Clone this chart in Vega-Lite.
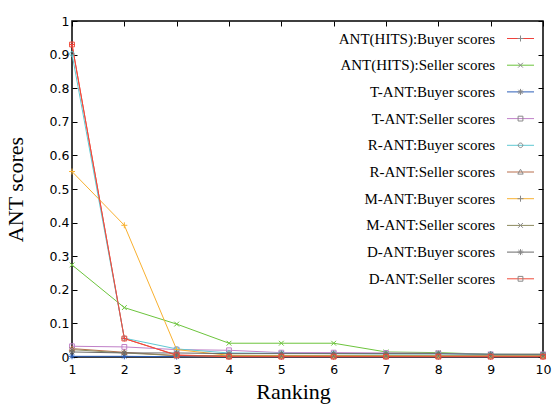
{
  "$schema": "https://vega.github.io/schema/vega-lite/v6.json",
  "width": 471,
  "height": 336,
  "autosize": "none",
  "padding": {"left": 72, "top": 21, "right": 9, "bottom": 49},
  "background": "white",
  "config": {
    "view": {"stroke": "black", "strokeWidth": 1.5},
    "axis": {
      "domain": false,
      "grid": false,
      "tickSize": -5,
      "tickColor": "black",
      "tickWidth": 1,
      "labelFont": "DejaVu Sans",
      "labelFontSize": 12.5,
      "labelColor": "black",
      "labelFlush": false,
      "labelOverlap": false,
      "titleFont": "Liberation Serif",
      "titleFontSize": 22,
      "titleFontWeight": "normal",
      "titleColor": "black"
    },
    "legend": {
      "orient": "none",
      "legendX": 441,
      "legendY": 10,
      "padding": 0,
      "labelAlign": "right",
      "labelOffset": -33,
      "labelFont": "Liberation Serif",
      "labelFontSize": 15,
      "labelColor": "black",
      "labelLimit": 0,
      "rowPadding": 10.7,
      "symbolSize": 36,
      "symbolStrokeWidth": 1
    }
  },
  "data": {
    "values": [
      {"r": 1, "s": "ANT(HITS):Buyer scores", "v": 0.93},
      {"r": 2, "s": "ANT(HITS):Buyer scores", "v": 0.055},
      {"r": 3, "s": "ANT(HITS):Buyer scores", "v": 0.006},
      {"r": 4, "s": "ANT(HITS):Buyer scores", "v": 0.002},
      {"r": 5, "s": "ANT(HITS):Buyer scores", "v": 0.002},
      {"r": 6, "s": "ANT(HITS):Buyer scores", "v": 0.002},
      {"r": 7, "s": "ANT(HITS):Buyer scores", "v": 0.002},
      {"r": 8, "s": "ANT(HITS):Buyer scores", "v": 0.002},
      {"r": 9, "s": "ANT(HITS):Buyer scores", "v": 0.002},
      {"r": 10, "s": "ANT(HITS):Buyer scores", "v": 0.002},
      {"r": 1, "s": "ANT(HITS):Seller scores", "v": 0.274},
      {"r": 2, "s": "ANT(HITS):Seller scores", "v": 0.147},
      {"r": 3, "s": "ANT(HITS):Seller scores", "v": 0.098},
      {"r": 4, "s": "ANT(HITS):Seller scores", "v": 0.041},
      {"r": 5, "s": "ANT(HITS):Seller scores", "v": 0.041},
      {"r": 6, "s": "ANT(HITS):Seller scores", "v": 0.041},
      {"r": 7, "s": "ANT(HITS):Seller scores", "v": 0.015},
      {"r": 8, "s": "ANT(HITS):Seller scores", "v": 0.013},
      {"r": 9, "s": "ANT(HITS):Seller scores", "v": 0.008},
      {"r": 10, "s": "ANT(HITS):Seller scores", "v": 0.008},
      {"r": 1, "s": "T-ANT:Buyer scores", "v": 0.002},
      {"r": 2, "s": "T-ANT:Buyer scores", "v": 0.002},
      {"r": 3, "s": "T-ANT:Buyer scores", "v": 0.001},
      {"r": 4, "s": "T-ANT:Buyer scores", "v": 0.001},
      {"r": 5, "s": "T-ANT:Buyer scores", "v": 0.001},
      {"r": 6, "s": "T-ANT:Buyer scores", "v": 0.001},
      {"r": 7, "s": "T-ANT:Buyer scores", "v": 0.001},
      {"r": 8, "s": "T-ANT:Buyer scores", "v": 0.001},
      {"r": 9, "s": "T-ANT:Buyer scores", "v": 0.001},
      {"r": 10, "s": "T-ANT:Buyer scores", "v": 0.001},
      {"r": 1, "s": "T-ANT:Seller scores", "v": 0.032},
      {"r": 2, "s": "T-ANT:Seller scores", "v": 0.03},
      {"r": 3, "s": "T-ANT:Seller scores", "v": 0.022},
      {"r": 4, "s": "T-ANT:Seller scores", "v": 0.02},
      {"r": 5, "s": "T-ANT:Seller scores", "v": 0.013},
      {"r": 6, "s": "T-ANT:Seller scores", "v": 0.013},
      {"r": 7, "s": "T-ANT:Seller scores", "v": 0.012},
      {"r": 8, "s": "T-ANT:Seller scores", "v": 0.011},
      {"r": 9, "s": "T-ANT:Seller scores", "v": 0.008},
      {"r": 10, "s": "T-ANT:Seller scores", "v": 0.008},
      {"r": 1, "s": "R-ANT:Buyer scores", "v": 0.902},
      {"r": 2, "s": "R-ANT:Buyer scores", "v": 0.056},
      {"r": 3, "s": "R-ANT:Buyer scores", "v": 0.024},
      {"r": 4, "s": "R-ANT:Buyer scores", "v": 0.012},
      {"r": 5, "s": "R-ANT:Buyer scores", "v": 0.011},
      {"r": 6, "s": "R-ANT:Buyer scores", "v": 0.01},
      {"r": 7, "s": "R-ANT:Buyer scores", "v": 0.009},
      {"r": 8, "s": "R-ANT:Buyer scores", "v": 0.009},
      {"r": 9, "s": "R-ANT:Buyer scores", "v": 0.008},
      {"r": 10, "s": "R-ANT:Buyer scores", "v": 0.007},
      {"r": 1, "s": "R-ANT:Seller scores", "v": 0.025},
      {"r": 2, "s": "R-ANT:Seller scores", "v": 0.014},
      {"r": 3, "s": "R-ANT:Seller scores", "v": 0.004},
      {"r": 4, "s": "R-ANT:Seller scores", "v": 0.003},
      {"r": 5, "s": "R-ANT:Seller scores", "v": 0.003},
      {"r": 6, "s": "R-ANT:Seller scores", "v": 0.003},
      {"r": 7, "s": "R-ANT:Seller scores", "v": 0.003},
      {"r": 8, "s": "R-ANT:Seller scores", "v": 0.003},
      {"r": 9, "s": "R-ANT:Seller scores", "v": 0.003},
      {"r": 10, "s": "R-ANT:Seller scores", "v": 0.003},
      {"r": 1, "s": "M-ANT:Buyer scores", "v": 0.552},
      {"r": 2, "s": "M-ANT:Buyer scores", "v": 0.392},
      {"r": 3, "s": "M-ANT:Buyer scores", "v": 0.022},
      {"r": 4, "s": "M-ANT:Buyer scores", "v": 0.005},
      {"r": 5, "s": "M-ANT:Buyer scores", "v": 0.004},
      {"r": 6, "s": "M-ANT:Buyer scores", "v": 0.004},
      {"r": 7, "s": "M-ANT:Buyer scores", "v": 0.004},
      {"r": 8, "s": "M-ANT:Buyer scores", "v": 0.003},
      {"r": 9, "s": "M-ANT:Buyer scores", "v": 0.003},
      {"r": 10, "s": "M-ANT:Buyer scores", "v": 0.003},
      {"r": 1, "s": "M-ANT:Seller scores", "v": 0.022},
      {"r": 2, "s": "M-ANT:Seller scores", "v": 0.012},
      {"r": 3, "s": "M-ANT:Seller scores", "v": 0.004},
      {"r": 4, "s": "M-ANT:Seller scores", "v": 0.003},
      {"r": 5, "s": "M-ANT:Seller scores", "v": 0.003},
      {"r": 6, "s": "M-ANT:Seller scores", "v": 0.003},
      {"r": 7, "s": "M-ANT:Seller scores", "v": 0.003},
      {"r": 8, "s": "M-ANT:Seller scores", "v": 0.003},
      {"r": 9, "s": "M-ANT:Seller scores", "v": 0.003},
      {"r": 10, "s": "M-ANT:Seller scores", "v": 0.003},
      {"r": 1, "s": "D-ANT:Buyer scores", "v": 0.015},
      {"r": 2, "s": "D-ANT:Buyer scores", "v": 0.012},
      {"r": 3, "s": "D-ANT:Buyer scores", "v": 0.012},
      {"r": 4, "s": "D-ANT:Buyer scores", "v": 0.01},
      {"r": 5, "s": "D-ANT:Buyer scores", "v": 0.01},
      {"r": 6, "s": "D-ANT:Buyer scores", "v": 0.01},
      {"r": 7, "s": "D-ANT:Buyer scores", "v": 0.01},
      {"r": 8, "s": "D-ANT:Buyer scores", "v": 0.01},
      {"r": 9, "s": "D-ANT:Buyer scores", "v": 0.008},
      {"r": 10, "s": "D-ANT:Buyer scores", "v": 0.008},
      {"r": 1, "s": "D-ANT:Seller scores", "v": 0.93},
      {"r": 2, "s": "D-ANT:Seller scores", "v": 0.055},
      {"r": 3, "s": "D-ANT:Seller scores", "v": 0.005},
      {"r": 4, "s": "D-ANT:Seller scores", "v": 0.001},
      {"r": 5, "s": "D-ANT:Seller scores", "v": 0.001},
      {"r": 6, "s": "D-ANT:Seller scores", "v": 0.001},
      {"r": 7, "s": "D-ANT:Seller scores", "v": 0.001},
      {"r": 8, "s": "D-ANT:Seller scores", "v": 0.001},
      {"r": 9, "s": "D-ANT:Seller scores", "v": 0.001},
      {"r": 10, "s": "D-ANT:Seller scores", "v": 0.001}
    ]
  },
  "encoding": {
    "x": {"field": "r", "type": "quantitative", "scale": {"domain": [1, 10], "nice": false, "zero": false}},
    "y": {"field": "v", "type": "quantitative", "scale": {"domain": [0, 1], "nice": false}},
    "color": {
      "field": "s",
      "type": "nominal",
      "scale": {
        "domain": ["ANT(HITS):Buyer scores", "ANT(HITS):Seller scores", "T-ANT:Buyer scores", "T-ANT:Seller scores", "R-ANT:Buyer scores", "R-ANT:Seller scores", "M-ANT:Buyer scores", "M-ANT:Seller scores", "D-ANT:Buyer scores", "D-ANT:Seller scores"],
        "range": ["#f0423c", "#6cc43c", "#2d5fb8", "#c080c8", "#5fc8d2", "#b86e4c", "#f8b030", "#8c8a5e", "#6a6a6a", "#f04a3a"]
      },
      "legend": {
        "title": null,
        "symbolType": "M-4.5,0H4.5",
        "symbolFillColor": "transparent"
      }
    }
  },
  "layer": [
    {
      "mark": {"type": "line", "strokeWidth": 1},
      "encoding": {
        "x": {"field": "r", "type": "quantitative", "axis": {"orient": "bottom", "values": [1, 2, 3, 4, 5, 6, 7, 8, 9, 10], "format": "d", "title": "Ranking", "labelPadding": 11, "titlePadding": 6, "titleX": 221}},
        "y": {"field": "v", "type": "quantitative", "axis": {"orient": "left", "values": [0, 0.1, 0.2, 0.3, 0.4, 0.5, 0.6, 0.7, 0.8, 0.9, 1], "format": "~g", "title": "ANT scores", "labelPadding": 8, "titlePadding": 22}}
      }
    },
    {
      "mark": {"type": "point", "filled": false, "size": 36, "strokeWidth": 1, "opacity": 1},
      "encoding": {
        "x": {"field": "r", "type": "quantitative", "axis": {"orient": "top", "values": [1, 2, 3, 4, 5, 6, 7, 8, 9, 10], "labels": false, "title": null}},
        "y": {"field": "v", "type": "quantitative", "axis": {"orient": "right", "values": [0, 0.1, 0.2, 0.3, 0.4, 0.5, 0.6, 0.7, 0.8, 0.9, 1], "labels": false, "title": null}},
        "shape": {
          "field": "s",
          "type": "nominal",
          "sort": ["ANT(HITS):Buyer scores", "ANT(HITS):Seller scores", "T-ANT:Buyer scores", "T-ANT:Seller scores", "R-ANT:Buyer scores", "R-ANT:Seller scores", "M-ANT:Buyer scores", "M-ANT:Seller scores", "D-ANT:Buyer scores", "D-ANT:Seller scores"],
          "legend": {
            "title": null,
            "labelOpacity": 0,
            "encode": {
              "symbols": {
                "update": {
                  "stroke": {"scale": "color", "field": "value"},
                  "fill": {"value": "transparent"}
                }
              }
            }
          },
          "scale": {
            "range": [
              "M-1,0H1M0,-1V1",
              "M-0.8,-0.8L0.8,0.8M-0.8,0.8L0.8,-0.8",
              "M-1,0H1M0,-1V1M-0.7,-0.7L0.7,0.7M-0.7,0.7L0.7,-0.7",
              "M-0.8,-0.8H0.8V0.8H-0.8Z",
              "M0.76,0A0.76,0.76 0 1,1 -0.76,0A0.76,0.76 0 1,1 0.76,0Z",
              "M0,-0.9L0.9,0.7H-0.9Z",
              "M-1,0H1M0,-1V1",
              "M-0.8,-0.8L0.8,0.8M-0.8,0.8L0.8,-0.8",
              "M-1,0H1M0,-1V1M-0.7,-0.7L0.7,0.7M-0.7,0.7L0.7,-0.7",
              "M-0.8,-0.8H0.8V0.8H-0.8Z"
            ]
          }
        }
      }
    }
  ]
}
